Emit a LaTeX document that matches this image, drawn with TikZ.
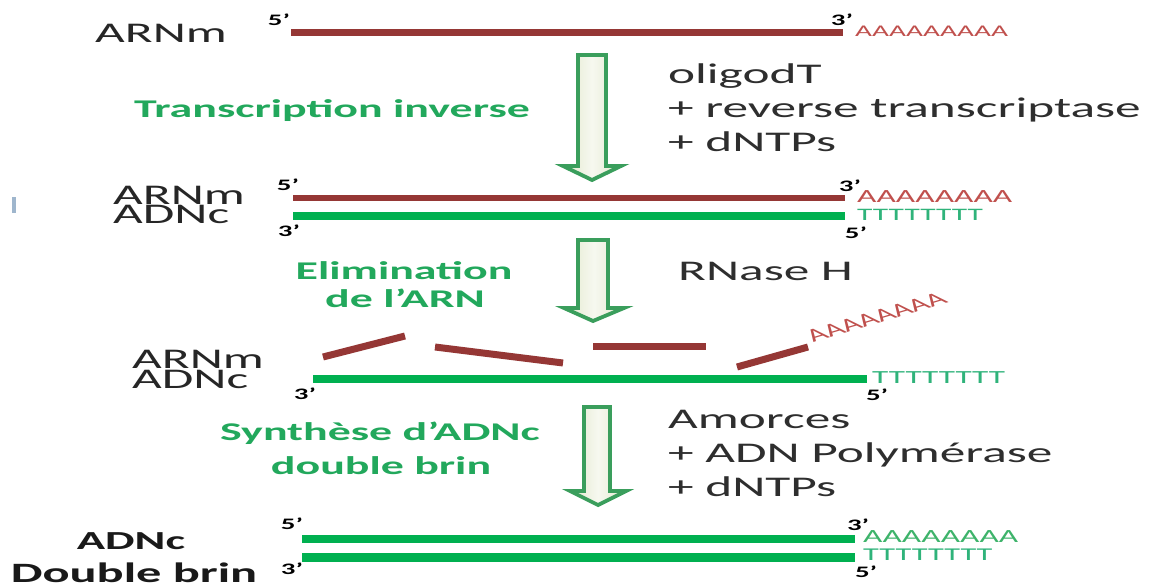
\documentclass[tikz,border=0pt]{standalone}
\usepackage{fontspec}
\newfontfamily\carwide[FakeStretch=1.8]{Carlito}
\newfontfamily\carplain{Carlito}
\definecolor{rna}{HTML}{953735}
\definecolor{dna}{HTML}{00B050}
\definecolor{steptext}{HTML}{22A85C}
\definecolor{arrowline}{HTML}{3A9E5C}
\definecolor{arrowfill}{HTML}{E2E8CC}
\definecolor{polyA}{HTML}{C0504D}
\definecolor{polyT}{HTML}{2FB37A}
\definecolor{polyAg}{HTML}{3DB36A}
\definecolor{straybar}{HTML}{9FB6CD}
\tikzset{
  rnastrand/.style={draw=rna, line width=7pt},
  dnastrand/.style={draw=dna, line width=8pt},
  primelbl/.style={font=\carwide\bfseries\fontsize{16}{16}\selectfont, inner sep=0pt},
  moltext/.style={font=\carwide\fontsize{28.5}{30}\selectfont, anchor=base west, inner sep=0pt, text=black!85},
  moltextbold/.style={font=\carwide\bfseries\fontsize{28}{30}\selectfont, anchor=base, inner sep=0pt, text=black!90},
  steplbl/.style={font=\carwide\bfseries\fontsize{25.5}{28}\selectfont, text=steptext, anchor=base, inner sep=0pt},
  reagent/.style={font=\carwide\fontsize{28.5}{34}\selectfont, anchor=base west, inner sep=0pt, text=black!82},
  tailtext/.style={font=\carwide\fontsize{#1}{#1}\selectfont, anchor=base west, inner sep=0pt},
  blockarrow/.style={draw=arrowline, line width=3.8pt, line join=miter,
    left color=arrowfill, right color=arrowfill, middle color=white!70!arrowfill},
}
\begin{document}
\begin{tikzpicture}[x=1pt,y=-1pt]
\useasboundingbox (0,0) rectangle (1159,588);
\fill[white] (0,0) rectangle (1159,588);

% ---------- row 1 : mRNA ----------
\node[moltext] (l1) at (95,43) {ARNm};
\coordinate (r1a) at (291,33); \coordinate (r1b) at (843,33);
\draw[rnastrand] (r1a) -- (r1b);
\node[primelbl] (p1a) at (279,20) {5’};
\node[primelbl] (p1b) at (842,20) {3’};
\node[tailtext=16.3, text=polyA] (a1) at (855,37) {AAAAAAAAA};

% arrow 1 and its labels
\path[blockarrow] (578,55) -- (606,55) -- (606,166) -- (621,166) -- (592,180) -- (563,166) -- (578,166) -- cycle;
\node[steplbl] (s1) at (332,118) {Transcription inverse};
\node[reagent] (g1a) at (668,84) {oligodT};
\node[reagent] (g1b) at (668,118) {+ reverse transcriptase};
\node[reagent] (g1c) at (668,152) {+ dNTPs};

% ---------- row 2 : mRNA / cDNA hybrid ----------
\fill[straybar] (12,197) rectangle (16,213);
\node[moltext] (l2a) at (113,205) {ARNm};
\node[moltext] (l2b) at (113,223) {ADNc};
\coordinate (r2a) at (293,198); \coordinate (r2b) at (845,198);
\coordinate (d2a) at (293,216); \coordinate (d2b) at (845,216);
\draw[rnastrand, line width=6.5pt] (r2a) -- (r2b);
\draw[dnastrand] (d2a) -- (d2b);
\node[primelbl] (p2a) at (288,185) {5’};
\node[primelbl] (p2b) at (289,231) {3’};
\node[primelbl] (p2c) at (850,186) {3’};
\node[primelbl] (p2d) at (856,233) {5’};
\node[tailtext=18.6, text=polyA] (a2) at (857,203) {AAAAAAAA};
\node[tailtext=17.5, text=polyT] (t2) at (857,221) {TTTTTTTT};

% arrow 2 and its labels
\path[blockarrow] (578,240) -- (608,240) -- (608,308) -- (624,308) -- (593,321) -- (564,308) -- (578,308) -- cycle;
\node[steplbl] (s2a) at (404,279) {Elimination};
\node[steplbl] (s2b) at (405,307) {de l’ARN};
\node[reagent] (g2) at (678,280) {RNase H};

% ---------- row 3 : mRNA fragments on cDNA ----------
\node[moltext] (l3a) at (132,368) {ARNm};
\node[moltext] (l3b) at (132,388) {ADNc};
\coordinate (d3a) at (313,379); \coordinate (d3b) at (867,379);
\draw[dnastrand] (d3a) -- (d3b);
\coordinate (f1a) at (323,357); \coordinate (f1b) at (405,336);
\coordinate (f2a) at (435,347); \coordinate (f2b) at (563,363);
\coordinate (f3a) at (593,346); \coordinate (f3b) at (706,346);
\coordinate (f4a) at (737,367); \coordinate (f4b) at (808,347);
\draw[rnastrand] (f1a) -- (f1b);
\draw[rnastrand] (f2a) -- (f2b);
\draw[rnastrand] (f3a) -- (f3b);
\draw[rnastrand] (f4a) -- (f4b);
\begin{scope}[shift={(813,343)}, xscale=1.8, transform shape]
  \node[font=\carplain\fontsize{18.4}{18.4}\selectfont, text=polyA, anchor=base west,
        inner sep=0pt, rotate=28] (a3) at (0,0) {AAAAAAAA};
\end{scope}
\node[primelbl] (p3a) at (305,394) {3’};
\node[primelbl] (p3b) at (877,395) {5’};
\node[tailtext=18.5, text=polyT] (t3) at (872,383) {TTTTTTTT};

% arrow 3 and its labels
\path[blockarrow] (584,407) -- (610,407) -- (610,491) -- (626,491) -- (598,505) -- (570,491) -- (584,491) -- cycle;
\node[steplbl] (s3a) at (380,440) {Synthèse d’ADNc};
\node[steplbl] (s3b) at (381,474) {double brin};
\node[reagent] (g3a) at (668,428) {Amorces};
\node[reagent] (g3b) at (668,462) {+ ADN Polymérase};
\node[reagent] (g3c) at (668,496) {+ dNTPs};

% ---------- row 4 : double-stranded cDNA ----------
\node[moltextbold, font=\carwide\bfseries\fontsize{26}{28}\selectfont] (l4a) at (131,549) {ADNc};
\node[moltextbold] (l4b) at (134,582) {Double brin};
\coordinate (d4a) at (302,539); \coordinate (d4b) at (855,539);
\coordinate (e4a) at (302,557); \coordinate (e4b) at (855,557);
\draw[dnastrand] (d4a) -- (d4b);
\draw[dnastrand, line width=9pt] (e4a) -- (e4b);
\node[primelbl] (p4a) at (292,524) {5’};
\node[primelbl] (p4b) at (292,569) {3’};
\node[primelbl] (p4c) at (858,525) {3’};
\node[primelbl] (p4d) at (866,572) {5’};
\node[tailtext=18.6, text=polyAg] (a4) at (863,542) {AAAAAAAA};
\node[tailtext=18, text=polyT] (t4) at (863,560) {TTTTTTTT};
\end{tikzpicture}
\end{document}
